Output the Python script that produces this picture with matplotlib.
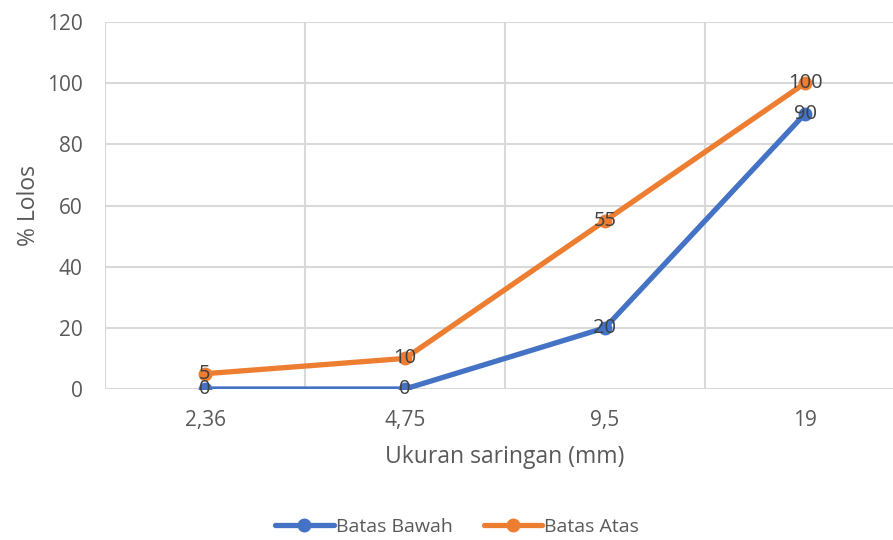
import matplotlib.pyplot as plt

plt.rcParams["font.family"] = ["Open Sans", "DejaVu Sans"]

sizes = ["2,36", "4,75", "9,5", "19"]
batas_bawah = [0, 0, 20, 90]
batas_atas = [5, 10, 55, 100]

colors = {"bawah": "#4472C4", "atas": "#ED7D31"}
text_gray = "#595959"
label_gray = "#404040"
grid_gray = "#D9D9D9"

fig = plt.figure(figsize=(8.93, 5.40), dpi=100)
ax = fig.add_axes([105 / 893, 1 - 389 / 540, 800 / 893, 367 / 540])

x = list(range(len(sizes)))
ax.plot(x, batas_bawah, color=colors["bawah"], lw=3.8, marker="o", ms=9,
        label="Batas Bawah", solid_capstyle="round", zorder=3)
ax.plot(x, batas_atas, color=colors["atas"], lw=3.8, marker="o", ms=9,
        label="Batas Atas", solid_capstyle="round", zorder=3)

for series in (batas_bawah, batas_atas):
    for xi, v in zip(x, series):
        ax.text(xi, v, str(v), ha="center", va="center", fontsize=14.5,
                color=label_gray, zorder=4)

ax.set_xlim(-0.5, len(sizes) - 0.5)
ax.set_ylim(0, 120)
ax.set_yticks(range(0, 121, 20))
ax.set_xticks(x)
ax.set_xticklabels(sizes)
ax.set_xticks([i - 0.5 for i in range(len(sizes) + 1)], minor=True)

ax.tick_params(axis="both", which="both", length=0, labelsize=15,
               labelcolor=text_gray)
ax.tick_params(axis="y", pad=16)
ax.tick_params(axis="x", pad=15)

ax.grid(True, axis="y", which="major", color=grid_gray, lw=1.5)
ax.grid(True, axis="x", which="minor", color=grid_gray, lw=1.5)
ax.set_axisbelow(True)
for s in ax.spines.values():
    s.set_visible(False)

ax.set_xlabel("Ukuran saringan (mm)", fontsize=16.5, color=text_gray, labelpad=10)
ax.set_ylabel("% Lolos", fontsize=16.5, color=text_gray, labelpad=4)

fig.legend(loc="center", bbox_to_anchor=(457 / 893, 1 - 527 / 540), ncol=2,
           frameon=False, fontsize=14, labelcolor=text_gray,
           handlelength=3.0, handletextpad=0.1, columnspacing=1.6)

fig.savefig("out.png", dpi=100)
